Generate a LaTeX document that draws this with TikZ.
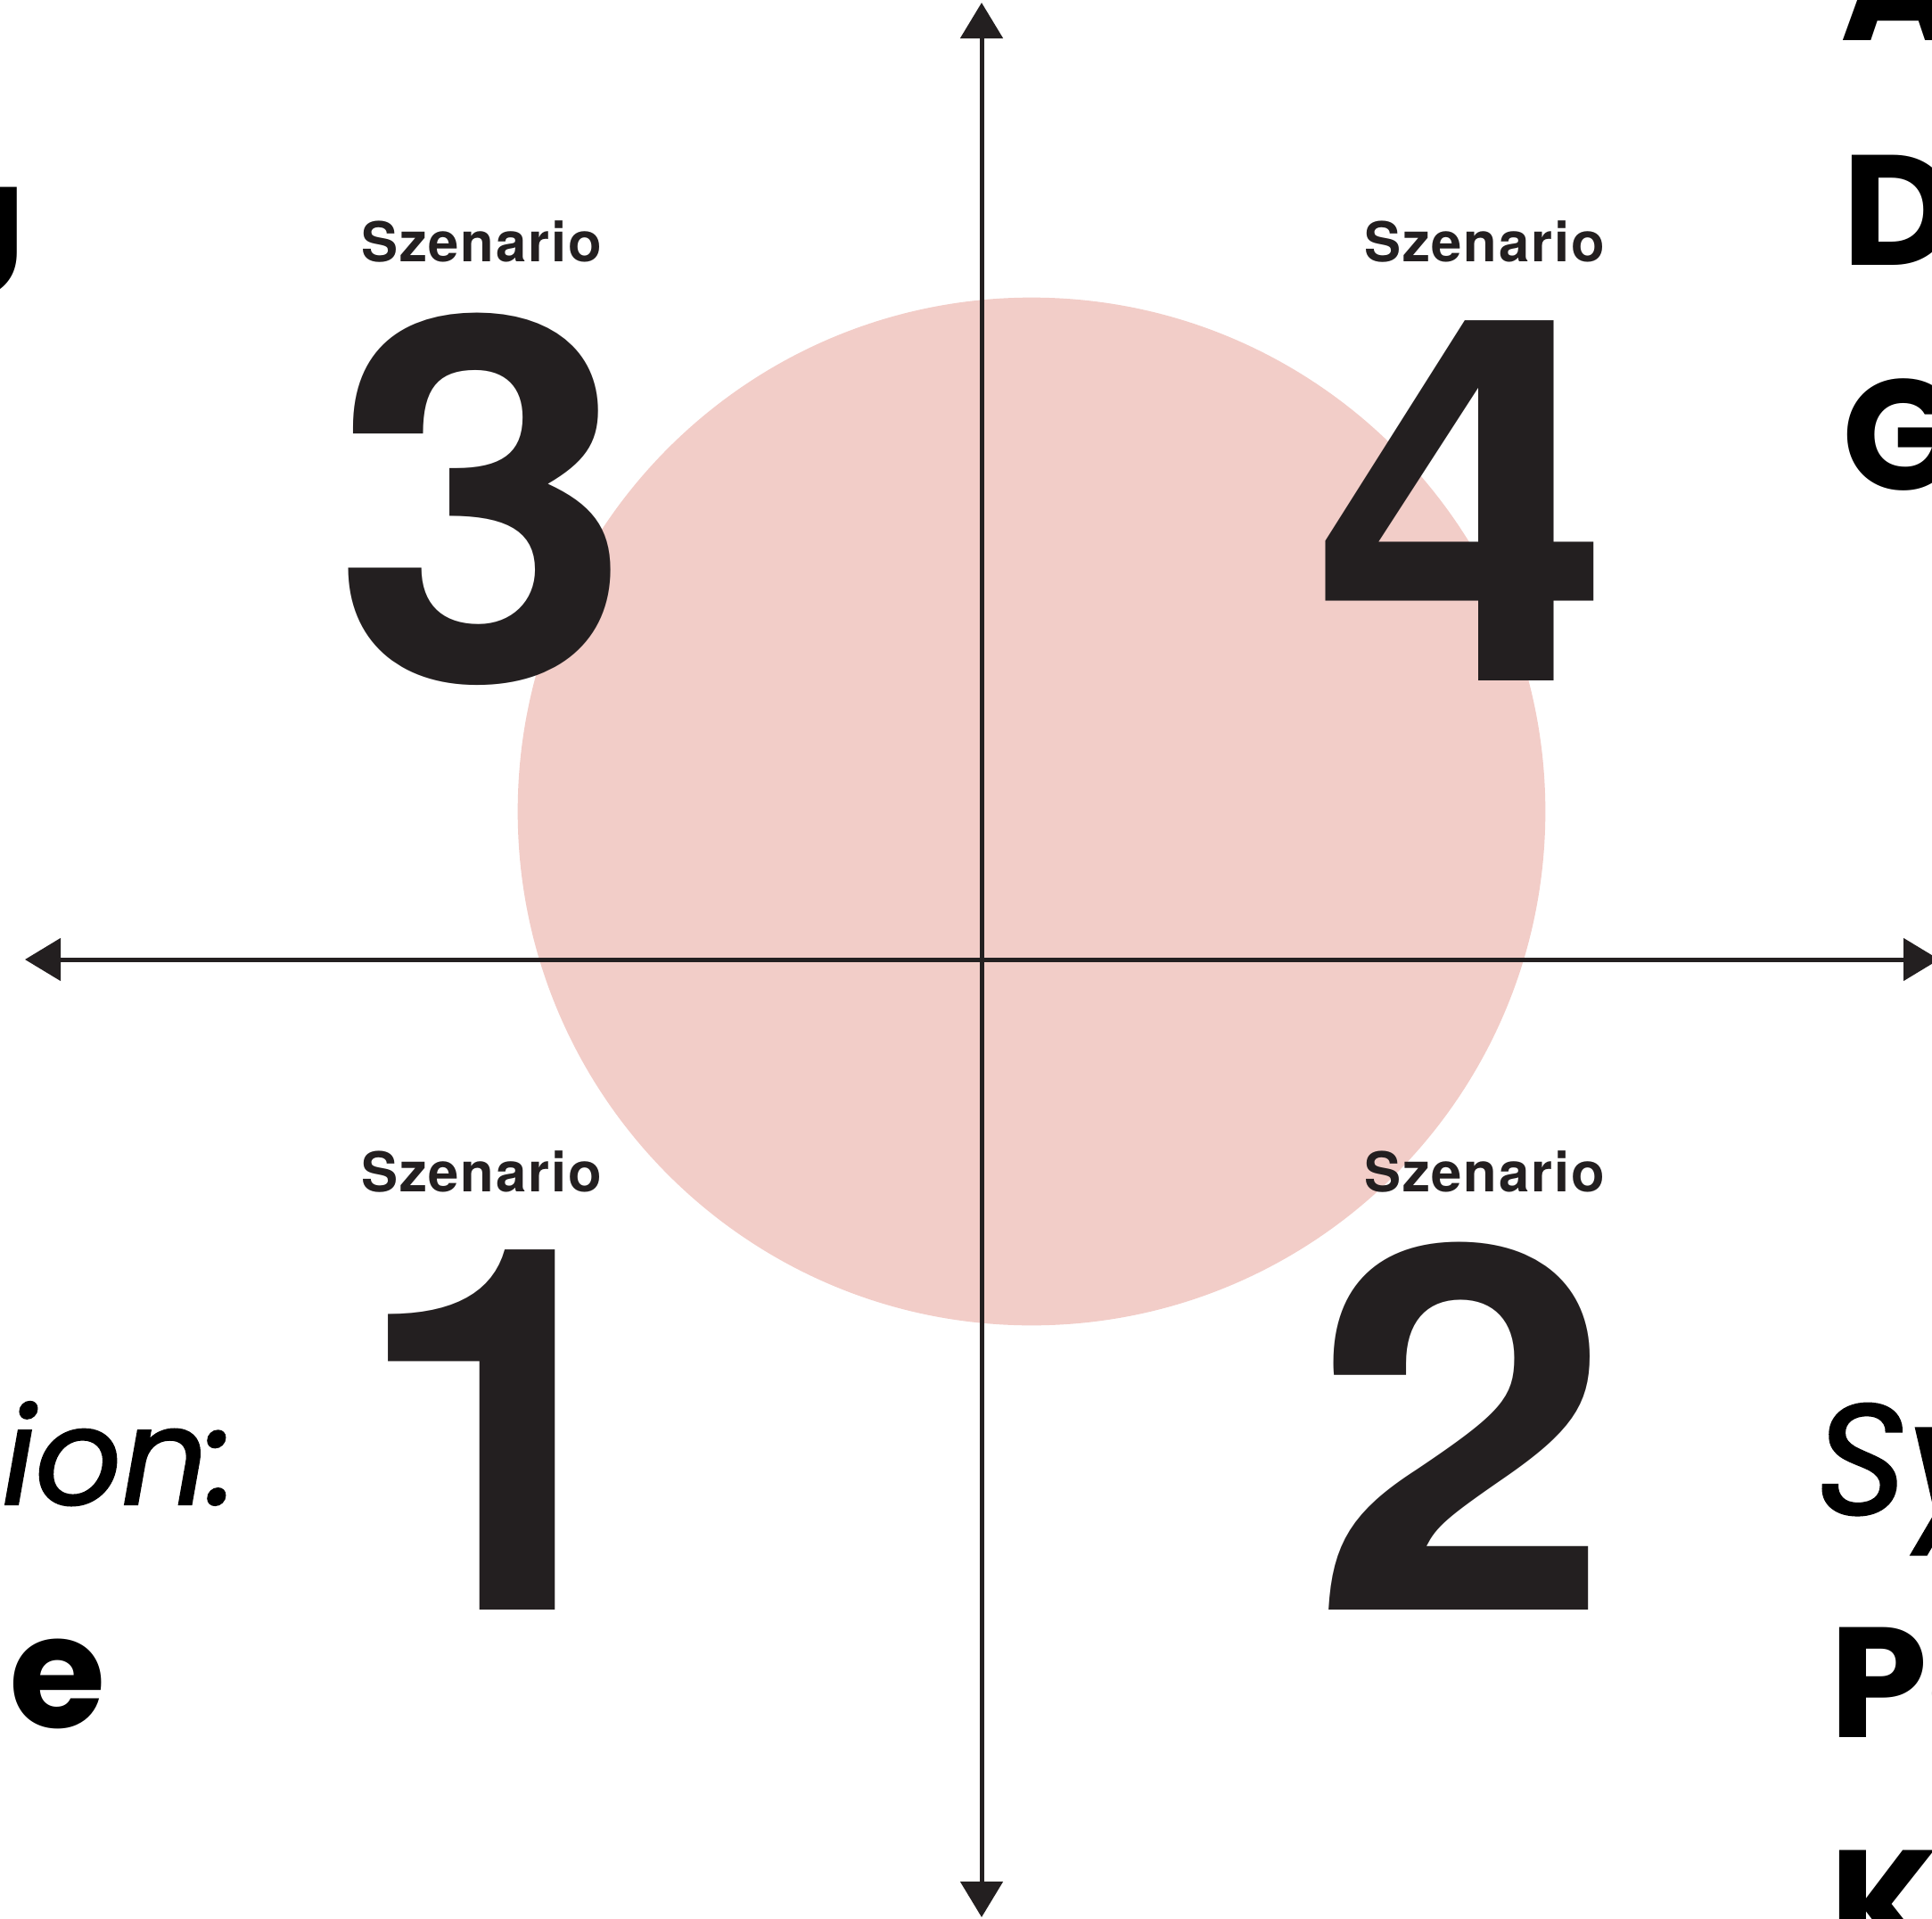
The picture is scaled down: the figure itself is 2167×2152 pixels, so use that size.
\documentclass[tikz,border=0pt]{standalone}
\usepackage{fontspec}
\setmainfont{TeX Gyre Heros}
\newfontfamily\szfont{TeX Gyre Heros}[LetterSpace=3]
\newfontfamily\digitfont{TeX Gyre Heros}[FakeStretch=1.06]
\newfontfamily\edgefont{Poppins}
\newfontfamily\edgeitfont{Poppins}[FakeBold=1.5]
\usetikzlibrary{arrows.meta}
\definecolor{inkblack}{HTML}{231F20}
\definecolor{circlepink}{HTML}{F2CDC8}

\begin{document}
\begin{tikzpicture}[x=0.01cm, y=-0.01cm, >={Triangle[length=4mm, width=4.7mm]},
    axis/.style={<->, line width=0.5mm, inkblack},
    szlabel/.style={inner sep=0pt, anchor=base, text=inkblack,
        font=\szfont\bfseries\fontsize{17.5}{20}\selectfont},
    bignum/.style={inner sep=0pt, anchor=base, text=inkblack,
        font=\digitfont\bfseries\fontsize{162}{162}\selectfont},
    edgebold/.style={inner sep=0pt, font=\edgefont\bfseries\fontsize{50}{50}\selectfont},
    edgeital/.style={inner sep=0pt, font=\edgeitfont\itshape\fontsize{50}{50}\selectfont}]

        \useasboundingbox (0,0) rectangle (2167,2152);
        \clip (0,0) rectangle (2167,2152);

        % Pink circle behind everything
        \fill[circlepink] (1157,910) circle[radius=5.76cm];

        % Axes
        \coordinate (top) at (1101,3);
        \coordinate (bottom) at (1101,2150);
        \coordinate (left) at (28,1076);
        \coordinate (right) at (2175,1076);
        \draw[axis] (bottom) -- (top); % vertical axis
        \draw[axis] (left) -- (right); % horizontal axis

        % Scenario labels and numbers
        \foreach \n/\lx/\nx/\ly in {3/540/541/294, 4/1665/1640/294, 1/540/562/1336, 2/1665/1640/1336} {
            \node[szlabel] (sz\n) at (\lx,\ly) {Szenario};
            \node[bignum] (num\n) at (\nx,\ly+469) {\n};
        }

        % Cut-off text at the left edge
        \node[edgebold, anchor=base east] (leftU) at (30,334) {U};
        \node[edgeital, anchor=base east, font=\edgeitfont\itshape\fontsize{43}{43}\selectfont] (leftion) at (266,1687) {ion:};
        \node[edgebold, anchor=base east] (leftle) at (120,1937) {le};

        % Cut-off text at the right edge
        \node[edgebold, anchor=base west] (rightA) at (2064,46) {A};
        \node[edgebold, anchor=base west] (rightD) at (2066,298) {D};
        \node[edgebold, anchor=base west] (rightG) at (2066,549) {G};
        \node[edgeital, anchor=base west] (rightSy) at (2036,1698) {Sy};
        \node[edgebold, anchor=base west] (rightP) at (2052,1948) {Po};
        \node[edgebold, anchor=base west] (rightK) at (2052,2198) {K};
\end{tikzpicture}
\end{document}
